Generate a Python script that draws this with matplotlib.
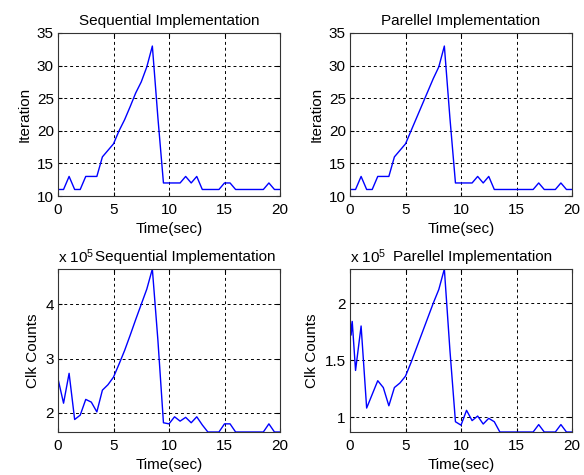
import matplotlib

matplotlib.use("Agg")
import matplotlib.pyplot as plt

plt.rcParams["font.family"] = ["Liberation Sans", "DejaVu Sans"]
plt.rcParams["mathtext.default"] = "regular"

# ==================== Data ====================
time_s = [0, 0.5, 1, 1.5, 2, 2.5, 3, 3.5, 4, 4.5, 5, 5.5, 6, 6.5, 7, 7.5, 8, 8.5,
          9, 9.5, 10, 10.5, 11, 11.5, 12, 12.5, 13, 13.5, 14, 14.5, 15, 15.5, 16,
          16.5, 17, 17.5, 18, 18.5, 19, 19.5, 20]

seq_iter = [11, 11, 13, 11, 11, 13, 13, 13, 16, 17, 18, 20, 21.7, 23.7, 25.8, 27.5,
            29.8, 33, 22, 12, 12, 12, 12, 13, 12, 13, 11, 11, 11, 11, 12, 12, 11,
            11, 11, 11, 11, 11, 12, 11, 11]

par_iter = [11, 11, 13, 11, 11, 13, 13, 13, 16, 17, 18, 20, 22, 24, 26, 28,
            29.8, 33, 22, 12, 12, 12, 12, 13, 12, 13, 11, 11, 11, 11, 11, 11, 11,
            11, 12, 11, 11, 11, 12, 11, 11]

# clock counts, units of 1e5
seq_clk = [2.63, 2.18, 2.73, 1.88, 1.96, 2.25, 2.20, 2.02, 2.42, 2.52, 2.66, 2.90,
           3.15, 3.43, 3.72, 4.00, 4.28, 4.65, 3.34, 1.82, 1.80, 1.93, 1.85, 1.92,
           1.82, 1.93, 1.78, 1.65, 1.65, 1.65, 1.80, 1.80, 1.65, 1.65, 1.65, 1.65,
           1.65, 1.65, 1.80, 1.65, 1.65]

par_time_s = [0, 0.1, 0.2, 0.5, 1, 1.5, 2, 2.5, 3, 3.5, 4, 4.5, 5, 5.5, 6, 6.5, 7,
              7.5, 8, 8.5, 9, 9.5, 10, 10.5, 11, 11.5, 12, 12.5, 13, 13.5, 14, 14.5,
              15, 15.5, 16, 16.5, 17, 17.5, 18, 18.5, 19, 19.5, 20]
par_clk = [1.90, 1.72, 1.84, 1.41, 1.80, 1.08, 1.20, 1.32, 1.26, 1.10, 1.26, 1.30,
           1.36, 1.48, 1.61, 1.74, 1.87, 2.00, 2.12, 2.30, 1.59, 0.96, 0.93, 1.06,
           0.97, 1.01, 0.94, 0.99, 0.96, 0.87, 0.87, 0.87, 0.87, 0.87, 0.87, 0.87,
           0.935, 0.87, 0.87, 0.87, 0.935, 0.87, 0.87]

x_ticks = [0, 5, 10, 15, 20]
iter_ticks = [10, 15, 20, 25, 30, 35]
seq_clk_ticks = [2, 3, 4]
par_clk_ticks = [1, 1.5, 2]

# ==================== Layout ====================
fig = plt.figure(figsize=(5.84, 4.75), dpi=100)
W, H = 584, 475
FS = 11


def make_axes(x0, x1, y0, y1):
    return fig.add_axes([x0 / W, 1 - y1 / H, (x1 - x0) / W, (y1 - y0) / H])


panels = [
    (make_axes(58, 280, 33, 196), time_s, seq_iter, "Sequential Implementation",
     "Iteration", iter_ticks, (10, 35), False, 0.5),
    (make_axes(350, 572, 33, 196), time_s, par_iter, "Parellel Implementation",
     "Iteration", iter_ticks, (10, 35), False, 0.5),
    (make_axes(58, 280, 269, 432), time_s, seq_clk, "Sequential Implementation",
     "Clk Counts", seq_clk_ticks, (min(seq_clk), max(seq_clk)), True, 0.575),
    (make_axes(350, 572, 269, 432), par_time_s, par_clk, "Parellel Implementation",
     "Clk Counts", par_clk_ticks, (min(par_clk), max(par_clk)), True, 0.55),
]

for ax, t, y, title, ylabel, yticks, ylim, exp_label, title_x in panels:
    ax.plot(t, y, color="#0000ff", lw=1.0)
    ax.set_xlim(0, 20)
    ax.set_ylim(*ylim)
    ax.set_xticks(x_ticks)
    ax.set_yticks(yticks)
    ax.set_yticklabels([f"{v:g}" for v in yticks])
    ax.grid(True, color="black", lw=0.7, linestyle=(0, (3, 3)))
    ax.tick_params(direction="in", length=3, top=True, right=True, labelsize=FS,
                   colors="black")
    ax.tick_params(axis="x", pad=5)
    ax.tick_params(axis="y", pad=3)
    for s in ax.spines.values():
        s.set_color("#333333")
        s.set_linewidth(0.8)
    ax.set_xlabel("Time(sec)", fontsize=FS, labelpad=4)
    ax.set_ylabel(ylabel, fontsize=FS, labelpad=4)
    ax.set_title(title, fontsize=FS, x=title_x, pad=6)
    if exp_label:
        ax.text(0.0, 1.02, r"x 10$^5$", transform=ax.transAxes, fontsize=FS,
                ha="left", va="bottom")

fig.savefig("out.png", dpi=100)
